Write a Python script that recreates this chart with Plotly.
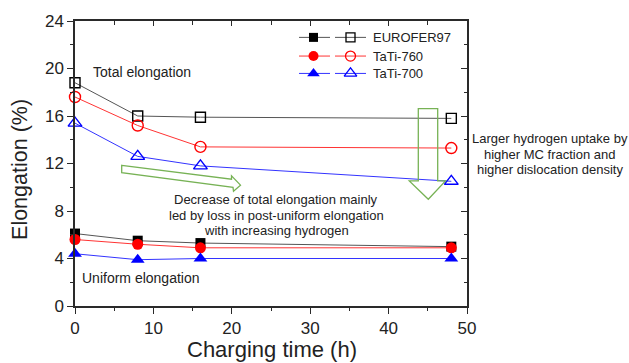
import plotly.graph_objects as go

# Charging time (h)
time_h = [0, 8, 16, 48]
alloys = ["EUROFER97", "TaTi-760", "TaTi-700"]

# Total elongation (%), open symbols
total_eurofer97 = [18.8, 16.0, 15.9, 15.8]
total_tati760 = [17.6, 15.2, 13.4, 13.3]
total_tati700 = [15.4, 12.6, 11.8, 10.5]

# Uniform elongation (%), filled symbols
uniform_eurofer97 = [6.1, 5.5, 5.3, 5.0]
uniform_tati760 = [5.6, 5.2, 4.9, 4.9]
uniform_tati700 = [4.4, 3.9, 4.0, 4.0]

x_ticks = [0, 10, 20, 30, 40, 50]
y_ticks = [0, 4, 8, 12, 16, 20, 24]

FONT = "Arial, Liberation Sans, sans-serif"
TXT = "#222222"
GREEN = "#77b255"

# plot-area geometry (pixels) used to place the free annotations
W, H = 629, 363
ML, MR, MT, MB = 75, 162, 19, 57
PW, PH = W - ML - MR, H - MT - MB


def px(x):
    return (x - ML) / PW


def py(y):
    return (H - MB - y) / PH


styles = {
    "EUROFER97": dict(color="#000000", line="#555555", sym="square", size=10),
    "TaTi-760": dict(color="#ff0000", line="#ff3333", sym="circle", size=11),
    "TaTi-700": dict(color="#0000ff", line="#3333ff", sym="triangle-up", size=12),
}
totals = dict(zip(alloys, [total_eurofer97, total_tati760, total_tati700]))
uniforms = dict(zip(alloys, [uniform_eurofer97, uniform_tati760, uniform_tati700]))

fig = go.Figure()

for name in alloys:
    s = styles[name]
    fig.add_trace(go.Scatter(
        x=time_h, y=totals[name], mode="lines+markers", cliponaxis=False,
        line=dict(color=s["line"], width=1),
        marker=dict(symbol=s["sym"] + "-open", size=s["size"], color=s["color"],
                    line=dict(width=1.4, color=s["color"])),
        showlegend=False, name=name + " total"))
for name in alloys:
    s = styles[name]
    fig.add_trace(go.Scatter(
        x=time_h, y=uniforms[name], mode="lines+markers", cliponaxis=False,
        line=dict(color=s["line"], width=1),
        marker=dict(symbol=s["sym"], size=s["size"], color=s["color"],
                    line=dict(width=0)),
        showlegend=False, name=name + " uniform"))

# empty trace so the mirrored top/right frame axes get drawn
fig.add_trace(go.Scatter(x=[None], y=[None], xaxis="x2", yaxis="y2", showlegend=False))

# hand-drawn legend on a pixel-scaled overlay axis
legend_rows = [35.5, 54.3, 71.8]
for name, ry in zip(alloys, legend_rows):
    s = styles[name]
    fig.add_trace(go.Scatter(
        x=[299, 330, None, 335, 366], y=[ry, ry, None, ry, ry], mode="lines",
        line=dict(color=s["line"], width=1), xaxis="x3", yaxis="y3",
        showlegend=False, hoverinfo="skip"))
    fig.add_trace(go.Scatter(
        x=[313.5], y=[ry], mode="markers", xaxis="x3", yaxis="y3", cliponaxis=False,
        marker=dict(symbol=s["sym"], size=s["size"] - 1, color=s["color"], line=dict(width=0)),
        showlegend=False, hoverinfo="skip"))
    fig.add_trace(go.Scatter(
        x=[350.5], y=[ry], mode="markers", xaxis="x3", yaxis="y3", cliponaxis=False,
        marker=dict(symbol=s["sym"] + "-open", size=s["size"] - 1, color=s["color"],
                    line=dict(width=1.3, color=s["color"])),
        showlegend=False, hoverinfo="skip"))

annotations = []


def label(text, x, y, size=13, anchor="center", angle=0):
    annotations.append(dict(x=px(x), y=py(y), xref="paper", yref="paper", text=text,
                            showarrow=False, xanchor=anchor, yanchor="middle",
                            textangle=angle, font=dict(size=size, color=TXT)))


for name, ry in zip(alloys, legend_rows):
    label(name, 371, ry, 13, "left")

label("Total elongation", 90.5, 70.7, 14, "left")
label("Uniform elongation", 80, 277.7, 14, "left")
for t, yy in zip(["Decrease of total elongation mainly",
                  "led by loss in post-uniform elongation",
                  "with increasing hydrogen"], [199, 214.7, 230.3]):
    label(t, 276, yy)
for t, yy in zip(["Larger hydrogen uptake by",
                  "higher MC fraction and",
                  "higher dislocation density"], [137.7, 153.2, 168.8]):
    label(t, 550, yy)

# axis titles
label("Charging time (h)", 271.5, 349.5, 22)
label("Elongation (%)", 20, 169, 21.5, angle=-90)


def poly(pts):
    return "M " + " L ".join(f"{a},{b}" for a, b in pts) + " Z"


shapes = [
    dict(type="path", xref="x3", yref="y3", line=dict(color=GREEN, width=1.3),
         path=poly([(121.7, 164.3), (231.5, 178.3), (231.5, 175.0), (240.5, 184.3),
                    (233.5, 190.5), (233.0, 186.5), (121.7, 171.7)])),
    dict(type="path", xref="x3", yref="y3", line=dict(color=GREEN, width=1.3),
         path=poly([(418.3, 107.3), (437.7, 107.3), (437.7, 180.0), (445.5, 180.0),
                    (428.3, 198.5), (409.3, 180.0), (418.3, 180.0)])),
]

AX = "#2a2a2a"
common = dict(showgrid=False, zeroline=False, showline=True, linecolor=AX, linewidth=1.5,
              tickcolor=AX, tickwidth=1.3, tickfont=dict(size=17, color=TXT))

fig.update_layout(
    width=W, height=H,
    margin=dict(l=ML, r=MR, t=MT, b=MB),
    paper_bgcolor="white", plot_bgcolor="white",
    font=dict(family=FONT, color=TXT),
    showlegend=False,
    xaxis=dict(range=[0, 50], tickvals=x_ticks, ticks="outside", ticklen=6,
               minor=dict(dtick=5, ticks="outside", ticklen=3, tickcolor=AX, tickwidth=1.2),
               **common),
    yaxis=dict(range=[0, 24], tickvals=y_ticks, ticks="outside", ticklen=6,
               minor=dict(dtick=2, ticks="outside", ticklen=3, tickcolor=AX, tickwidth=1.2),
               **common),
    xaxis2=dict(range=[0, 50], overlaying="x", side="top", anchor="y2", tickvals=x_ticks,
                ticks="inside", ticklen=5, showticklabels=False,
                minor=dict(dtick=5, ticks="inside", ticklen=4, tickcolor=AX, tickwidth=1.2),
                **common),
    yaxis2=dict(range=[0, 24], overlaying="y", side="right", anchor="x2", tickvals=y_ticks,
                ticks="inside", ticklen=6, showticklabels=False,
                minor=dict(dtick=2, ticks="inside", ticklen=3, tickcolor=AX, tickwidth=1.2),
                **common),
    xaxis3=dict(range=[ML, W - MR], overlaying="x", visible=False, anchor="y3"),
    yaxis3=dict(range=[H - MB, MT], overlaying="y", visible=False, anchor="x3"),
    annotations=annotations,
    shapes=shapes,
)

fig.write_html("out.html")
